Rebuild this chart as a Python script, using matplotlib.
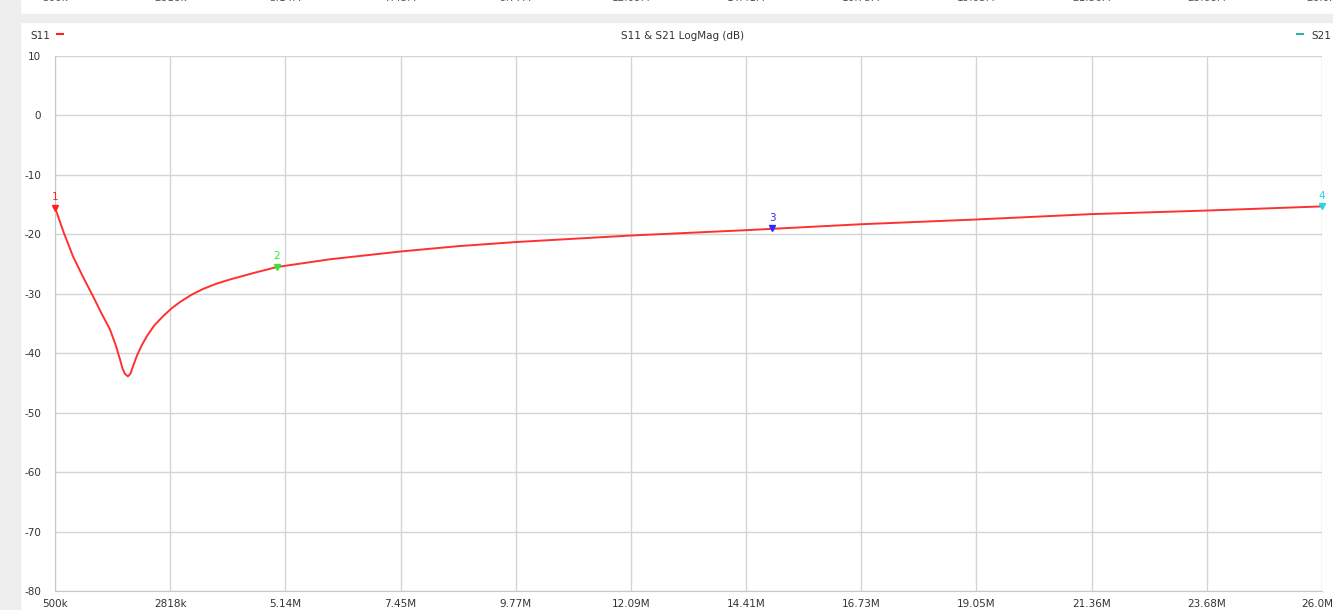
import matplotlib
matplotlib.use('Agg')
import matplotlib.pyplot as plt
from matplotlib.patches import Rectangle
from matplotlib.transforms import ScaledTranslation

# S11 trace, frequency in MHz, magnitude in dB
freq_mhz = [0.5, 0.68, 0.862, 1.06, 1.264, 1.43, 1.606, 1.72, 1.807, 1.86, 1.91,
            1.968, 2.02, 2.07, 2.149, 2.25, 2.351, 2.50, 2.672, 2.84, 3.014, 3.24,
            3.477, 3.75, 4.020, 4.50, 4.965, 6.031, 7.44, 8.6, 9.77, 12.09, 14.41,
            16.73, 19.05, 21.36, 23.68, 26.0]
s11_db = [-15.5, -19.8, -23.7, -27.1, -30.4, -33.2, -36.0, -38.6, -41.0, -42.6, -43.5,
          -43.9, -43.4, -42.2, -40.4, -38.6, -37.1, -35.3, -33.8, -32.5, -31.4, -30.2,
          -29.2, -28.3, -27.6, -26.5, -25.5, -24.2, -22.9, -22.0, -21.3, -20.2, -19.3,
          -18.3, -17.5, -16.6, -16.0, -15.3]

# markers: label, frequency (MHz), dB, colour
marker_ids = ['1', '2', '3', '4']
marker_freq = [0.5, 4.965, 14.93, 26.0]
marker_db = [-15.5, -25.5, -19.0, -15.3]
marker_colors = ['#ff2020', '#33e833', '#2a2aff', '#20d8e8']

tick_freq = [0.5 + i * (26.0 - 0.5) / 11 for i in range(12)]
tick_labels = ['500k', '2818k', '5.14M', '7.45M', '9.77M', '12.09M', '14.41M',
               '16.73M', '19.05M', '21.36M', '23.68M', '26.0M']
y_ticks = [10, 0, -10, -20, -30, -40, -50, -60, -70, -80]

fig = plt.figure(figsize=(13.33, 6.10), dpi=100)
fig.patch.set_facecolor('white')

# grey frame bits around the panel
fig.patches.append(Rectangle((0, 0), 20 / 1333, 1, transform=fig.transFigure,
                             color='#eeeeee', zorder=0))
fig.patches.append(Rectangle((0, 1 - 22 / 610), 1, 8 / 610, transform=fig.transFigure,
                             color='#eeeeee', zorder=0))

ax = fig.add_axes([55 / 1333, 1 - 591 / 610, (1322 - 55) / 1333, (591 - 56) / 610])
ax.set_xlim(0.5, 26.0)
ax.set_ylim(-80, 10)
ax.set_xticks(tick_freq)
ax.set_xticklabels(tick_labels)
ax.set_yticks(y_ticks)
ax.set_yticklabels([str(v) for v in y_ticks])
ax.grid(True, color='#d4d4d4', linewidth=1.0)
ax.set_axisbelow(True)
for side in ['top', 'right']:
    ax.spines[side].set_visible(False)
for side in ['left', 'bottom']:
    ax.spines[side].set_color('#c8c8c8')
ax.tick_params(axis='both', length=0, labelsize=7.5, colors='#333333')
ax.tick_params(axis='x', pad=6)
ax.tick_params(axis='y', pad=10)
# last label sits a little inside the right edge, as in the original
last = ax.get_xticklabels()[-1]
last.set_transform(last.get_transform() + ScaledTranslation(-0.05, 0, fig.dpi_scale_trans))

ax.plot(freq_mhz, s11_db, color='#ff3030', linewidth=1.4, clip_on=False)

for mid, mf, md, mc in zip(marker_ids, marker_freq, marker_db, marker_colors):
    ax.plot([mf], [md], marker='v', color=mc, markersize=4, clip_on=False, zorder=5)
    ax.annotate(mid, (mf, md), xytext=(0, 4), textcoords='offset points',
                ha='center', va='bottom', color=mc, fontsize=7.5)

# header of the panel
fig.text(683 / 1333, 1 - 36 / 610, 'S11 & S21 LogMag (dB)', ha='center', va='center',
         fontsize=7.5, color='#333333')
fig.text(30 / 1333, 1 - 36 / 610, 'S11', ha='left', va='center', fontsize=7.5,
         color='#333333')
fig.lines.append(plt.Line2D([57 / 1333, 63 / 1333], [1 - 34 / 610, 1 - 34 / 610],
                            transform=fig.transFigure, color='#ff2020', linewidth=1.5))
fig.text(1331 / 1333, 1 - 36 / 610, 'S21', ha='right', va='center', fontsize=7.5,
         color='#333333')
fig.lines.append(plt.Line2D([1297 / 1333, 1303 / 1333], [1 - 34 / 610, 1 - 34 / 610],
                            transform=fig.transFigure, color='#30b0a0', linewidth=1.5))

# cut-off tick labels of the chart above
for tf, tl in zip(tick_freq, tick_labels):
    xf = (55 + (tf - 0.5) / 25.5 * (1322 - 55)) / 1333
    fig.text(xf, 1 + 2 / 610, tl, ha='center', va='center', fontsize=7.5, color='#555555')

fig.savefig('out.png', dpi=100)
